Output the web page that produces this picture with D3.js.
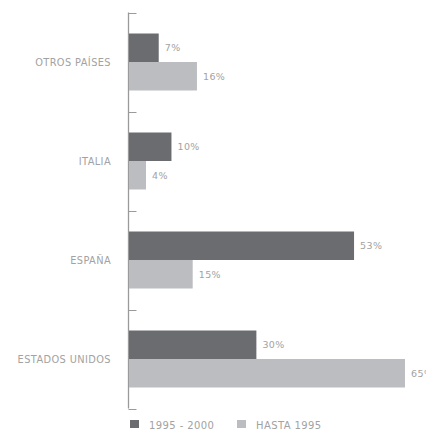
<!DOCTYPE html>
<html><head><meta charset="utf-8">
<script src="https://cdn.jsdelivr.net/npm/d3@7"></script>
<style>
html,body{margin:0;padding:0;background:#fff;overflow:hidden;}
svg{display:block;}
text{font-family:"DejaVu Sans",sans-serif;fill:#a2a2a2;letter-spacing:0.4px;}
</style></head><body>
<script>
const categories = ["OTROS PAÍSES", "ITALIA", "ESPAÑA", "ESTADOS UNIDOS"];
const series = ["1995 - 2000", "HASTA 1995"];
const values1995_2000 = [7, 10, 53, 30];
const valuesHasta1995 = [16, 4, 15, 65];
const colors = ["#6b6c70", "#bcbdc1"];

const W = 426, H = 432;
const svg = d3.select("body").append("svg").attr("width", W).attr("height", H);

const x0 = 129;
const x = d3.scaleLinear().domain([0, 65]).range([x0, 405]);
const y = d3.scaleBand().domain(categories).range([12.5, 408.5]);
const barH = 28.5;

const data = categories.map((c, i) => ({cat: c, vals: [values1995_2000[i], valuesHasta1995[i]]}));

// axis line and ticks
const axisX = 128.5;
const boundaries = categories.map(c => y(c)).concat([y.range()[1]]);
svg.append("line").attr("x1", axisX).attr("x2", axisX)
  .attr("y1", boundaries[0]).attr("y2", boundaries[boundaries.length-1])
  .attr("stroke", "#9a9a9a").attr("stroke-width", 1.3);
svg.selectAll(".tick").data(boundaries).enter().append("line")
  .attr("x1", axisX).attr("x2", axisX + 8)
  .attr("y1", d => Math.round(d) + 0.5).attr("y2", d => Math.round(d) + 0.5)
  .attr("stroke", "#9a9a9a").attr("stroke-width", 1);

const g = svg.selectAll(".grp").data(data).enter().append("g");
g.each(function(d) {
  const cy = y(d.cat) + y.bandwidth() / 2;
  const sel = d3.select(this);
  d.vals.forEach((v, k) => {
    const top = cy - barH + k * barH;
    sel.append("rect").attr("x", x(0)).attr("y", top)
      .attr("width", x(v) - x(0)).attr("height", barH).attr("fill", colors[k]);
    sel.append("text").attr("x", x(v) + 6).attr("y", top + barH / 2 + 3.5)
      .attr("font-size", 9.5).text(v + "%");
  });
  sel.append("text").attr("x", 111).attr("y", cy + 4).attr("text-anchor", "end")
    .attr("font-size", 9.8).text(d.cat);
});

// legend
const legX = [130, 237];
series.forEach((s, k) => {
  svg.append("rect").attr("x", legX[k]).attr("y", 420).attr("width", 9).attr("height", 8).attr("fill", colors[k]);
  svg.append("text").attr("x", legX[k] + 19).attr("y", 428.5).attr("font-size", 10).text(s);
});
</script>
</body></html>
